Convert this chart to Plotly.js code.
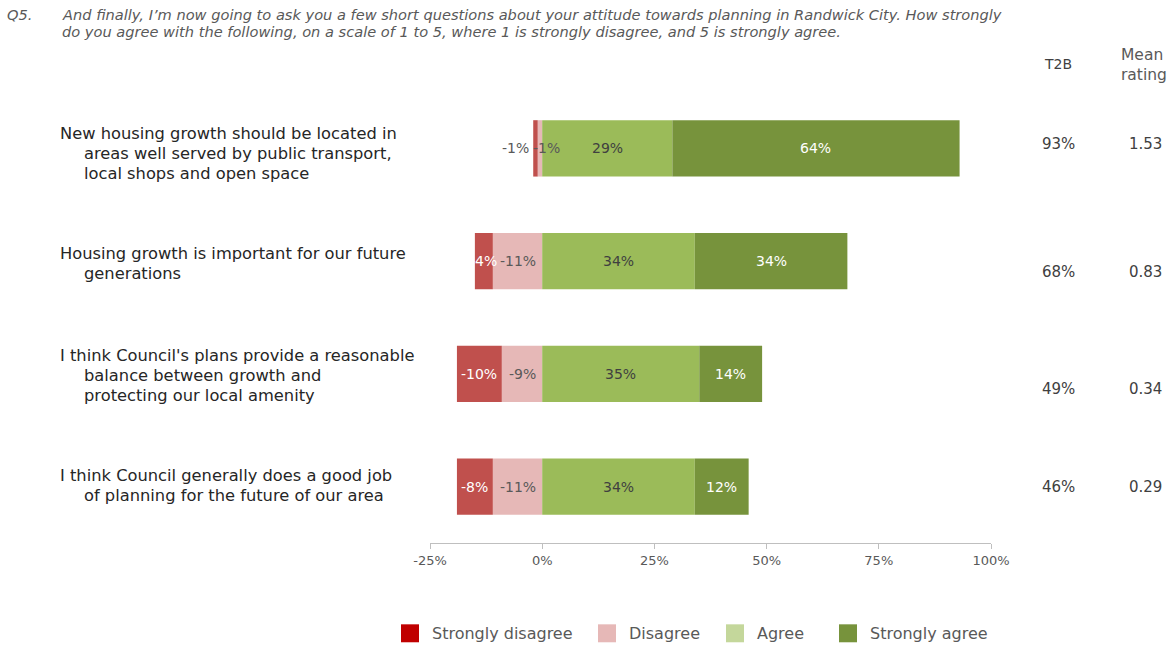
<!DOCTYPE html>
<html>
<head>
<meta charset="utf-8">
<script src="https://cdn.plot.ly/plotly-3.0.1.min.js"></script>
<style>html,body{margin:0;padding:0;background:#fff}#chart{width:1169px;height:645px}</style>
</head>
<body>
<div id="chart"></div>
<script>
// ---------- data ----------
var categories = [
  "New housing growth should be located in|areas well served by public transport,|local shops and open space",
  "Housing growth is important for our future|generations",
  "I think Council's plans provide a reasonable|balance between growth and|protecting our local amenity",
  "I think Council generally does a good job|of planning for the future of our area"
];
var stronglyDisagree = [-1, -4, -10, -8];
var disagree = [-1, -11, -9, -11];
var agree = [29, 34, 35, 34];
var stronglyAgree = [64, 34, 14, 12];
var t2b = ["93%", "68%", "49%", "46%"];
var meanRating = ["1.53", "0.83", "0.34", "0.29"];
var xTickVals = [-25, 0, 25, 50, 75, 100];
var xTickText = ["-25%", "0%", "25%", "50%", "75%", "100%"];
var seriesNames = ["Strongly disagree", "Disagree", "Agree", "Strongly agree"];
var questionLines = [
  "And finally, I\u2019m now going to ask you a few short questions about your attitude towards planning in Randwick City. How strongly",
  "do you agree with the following, on a scale of 1 to 5, where 1 is strongly disagree, and 5 is strongly agree."
];

// ---------- style ----------
var FONT = "DejaVu Sans";
var W = 1169, H = 645, ML = 430, MR = 178, MT = 91.5, MB = 101.5;
var plotW = W - ML - MR, plotH = H - MT - MB;
function px(x){ return (x - ML) / plotW; }          // pixel -> paper x
function py(y){ return (H - MB - y) / plotH; }      // pixel -> paper y
var barColors = {sd: "#c0504d", d: "#e6b8b7", a: "#9bbb59", sa: "#77933c"};
var legendColors = ["#c00000", "#e6b8b7", "#c4d79b", "#77933c"];
var legendSlots = [401, 598, 726, 839];   // left edge of each legend swatch (px)
var rows = categories.map(function(_, i){ return i; });

function barTrace(vals, color, name){
  return {type: "bar", orientation: "h", y: rows, x: vals, width: 0.5, name: name,
    marker: {color: color, line: {width: 0}}, showlegend: false, hoverinfo: "skip"};
}
var traces = [
  barTrace(disagree, barColors.d, seriesNames[1]),
  barTrace(stronglyDisagree, barColors.sd, seriesNames[0]),
  barTrace(agree, barColors.a, seriesNames[2]),
  barTrace(stronglyAgree, barColors.sa, seriesNames[3])
];

var ann = [];
var shapes = [];
var labFont = function(c){ return {family: FONT, size: 14, color: c}; };
function pct(v){ return Math.round(v) + "%"; }
rows.forEach(function(i){
  var d = disagree[i], sd = stronglyDisagree[i], a = agree[i], sa = stronglyAgree[i];
  if (Math.abs(d) < 2) {
    ann.push({x: d + sd, y: i, xref: "x", yref: "y", text: pct(d), showarrow: false, xanchor: "left", xshift: -2, font: labFont("#595959")});
  } else {
    ann.push({x: d / 2, y: i, xref: "x", yref: "y", text: pct(d), showarrow: false, font: labFont("#595959")});
  }
  if (Math.abs(sd) < 2) {
    ann.push({x: d + sd, y: i, xref: "x", yref: "y", text: pct(sd), showarrow: false, xanchor: "right", xshift: -2, font: labFont("#595959")});
  } else {
    ann.push({x: d + sd / 2, y: i, xref: "x", yref: "y", text: pct(sd), showarrow: false, font: labFont("#ffffff")});
  }
  ann.push({x: a / 2, y: i, xref: "x", yref: "y", text: pct(a), showarrow: false, font: labFont("#404040")});
  ann.push({x: a + sa / 2, y: i, xref: "x", yref: "y", text: pct(sa), showarrow: false, font: labFont("#ffffff")});
});

// category labels (hanging indent), per line
var catShift = [-5, -2, -2, 1];
var lineH = 20;
rows.forEach(function(i){
  var lines = categories[i].split("|");
  var n = lines.length;
  lines.forEach(function(t, k){
    ann.push({x: k === 0 ? px(58) : px(82), xref: "paper", y: i, yref: "y",
      yshift: catShift[i] - (k - (n - 1) / 2) * lineH, xanchor: "left", yanchor: "middle",
      text: t, showarrow: false, font: {family: FONT, size: 16.3, color: "#262626"}});
  });
});

// T2B and mean columns
var colShift = [4, -11, -15, 0];
var colFont = {family: FONT, size: 15, color: "#404040"};
rows.forEach(function(i){
  ann.push({x: px(1058), xref: "paper", xanchor: "center", y: i, yref: "y", yanchor: "middle", yshift: colShift[i],
    text: t2b[i], showarrow: false, font: colFont});
  ann.push({x: px(1145), xref: "paper", xanchor: "center", y: i, yref: "y", yanchor: "middle", yshift: colShift[i],
    text: meanRating[i], showarrow: false, font: colFont});
});
ann.push({x: px(1058), xref: "paper", xanchor: "center", y: py(63), yref: "paper", yanchor: "middle", text: "T2B", showarrow: false,
  font: {family: FONT, size: 14, color: "#404040"}});
ann.push({x: px(1119), xref: "paper", y: py(64), yref: "paper", xanchor: "left", yanchor: "middle", align: "left",
  text: "Mean<br>rating", showarrow: false, font: {family: FONT, size: 15.5, color: "#595959"}});

// question header
var qFont = {family: FONT, size: 14.6, color: "#595959", style: "italic"};
ann.push({x: px(5), xref: "paper", y: py(14), yref: "paper", xanchor: "left", yanchor: "middle", text: "Q5.", showarrow: false, font: qFont});
questionLines.forEach(function(t, k){
  ann.push({x: px(60), xref: "paper", y: py(14 + 17 * k), yref: "paper", xanchor: "left", yanchor: "middle",
    showarrow: false, font: qFont, text: t});
});

// legend (swatches + names)
seriesNames.forEach(function(n, k){
  var x0 = legendSlots[k];
  shapes.push({type: "rect", xref: "paper", yref: "paper", x0: px(x0), x1: px(x0 + 18), y0: py(643), y1: py(625),
    fillcolor: legendColors[k], line: {width: 0}});
  ann.push({x: px(x0 + 29), xref: "paper", y: py(634), yref: "paper", xanchor: "left", yanchor: "middle",
    text: n, showarrow: false, font: {family: FONT, size: 16, color: "#595959"}});
});

var layout = {
  width: W, height: H,
  margin: {l: ML, r: MR, t: MT, b: MB, pad: 0},
  paper_bgcolor: "#ffffff", plot_bgcolor: "#ffffff",
  barmode: "relative", bargap: 0.5,
  font: {family: FONT, color: "#595959"},
  xaxis: {range: [-25, 100], tickvals: xTickVals, ticktext: xTickText, showgrid: false, zeroline: false,
    showline: true, linecolor: "#bfbfbf", linewidth: 1, ticks: "outside", ticklen: 5, tickcolor: "#bfbfbf",
    tickfont: {family: FONT, size: 13, color: "#595959"}, fixedrange: true},
  yaxis: {range: [3.5, -0.5], showticklabels: false, showgrid: false, zeroline: false, showline: false, ticks: "", fixedrange: true},
  showlegend: false,
  shapes: shapes,
  annotations: ann
};
Plotly.newPlot("chart", traces, layout, {displayModeBar: false, staticPlot: true});
</script>
</body>
</html>
